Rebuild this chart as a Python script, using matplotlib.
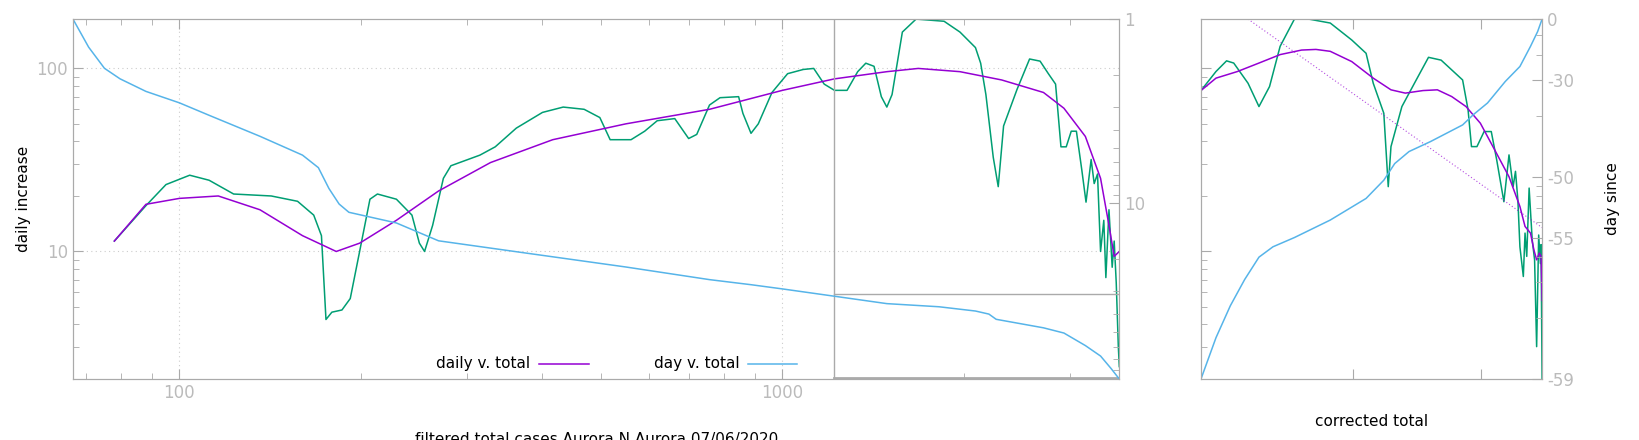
import numpy as np
import matplotlib
matplotlib.use("Agg")
import matplotlib.pyplot as plt
from matplotlib.ticker import FixedLocator, NullFormatter, FixedFormatter

PURPLE = "#9400d3"
GREEN = "#009e73"
BLUE = "#56b4e9"
GRAY = "#aaaaaa"
TICKC = "#bbbbbb"

# main panel: daily increase vs filtered total (smoothed)
daily_x = [78, 88, 100, 116, 136, 160, 182, 199, 229, 269, 328, 416, 550, 757, 1000,
           1220, 1490, 1680, 1970, 2310, 2710, 2930, 3180, 3370, 3480, 3550, 3620]
daily_y = [11.4, 18.1, 19.5, 20.1, 16.9, 12.2, 10.0, 11.1, 14.8, 21.4, 30.6, 40.8, 49.8,
           59.8, 75.9, 87.7, 96, 100, 96, 86.5, 73.9, 60.6, 42.5, 25.1, 13.9, 9.4, 10.0]

# main panel: raw daily increase
raw_x = [78, 88, 95, 104, 112, 123, 142, 157, 167, 172, 175, 179, 186, 192, 199, 207, 213,
         229, 243, 250, 255, 263, 274, 282, 315, 334, 362, 400, 433, 469, 498, 518, 561,
         591, 620, 663, 699, 721, 757, 788, 846, 860, 887, 912, 961, 1020, 1083, 1127,
         1173, 1220, 1280, 1333, 1375, 1419, 1459, 1490, 1520, 1581, 1666, 1854, 1970,
         2090, 2132, 2175, 2237, 2280, 2327, 2450, 2570, 2675, 2761, 2838, 2897, 2956,
         3013, 3073, 3137, 3188, 3251, 3289, 3331, 3370, 3412, 3439, 3480, 3523, 3550,
         3578, 3606, 3620]
raw_y = [11.4, 17.8, 23.2, 26.1, 24.5, 20.6, 20.1, 18.8, 15.8, 12.2, 4.25, 4.66, 4.79,
         5.53, 10.0, 19.3, 20.6, 19.3, 15.8, 11.1, 10.0, 13.9, 25.1, 29.4, 33.6, 37.3,
         47.2, 57.5, 61.5, 59.8, 53.9, 40.8, 40.8, 45.4, 51.8, 53.2, 41.4, 43.6, 63.1,
         69.2, 70.1, 56.8, 44.2, 49.8, 73.9, 93.6, 98.7, 100, 82.1, 75.9, 75.9, 96,
         106.8, 102.7, 70.1, 61.5, 72, 158, 186, 181, 158, 130, 106.8, 72, 32.7, 22.6,
         48.5, 76.9, 112.6, 109.6, 93.6, 82.1, 37.3, 37.3, 45.4, 45.4, 27.9, 18.6, 31.8,
         23.5, 26.5, 10.0, 14.8, 7.2, 16.9, 8.2, 11.4, 6.74, 3.06, 2.35]

# main panel: day v. total (right axis, reversed log)
day_x = [66.6, 70.7, 75.1, 79.7, 88, 100, 112, 136, 160, 170, 177, 184, 191, 229, 269,
         369, 550, 757, 887, 1000, 1220, 1490, 1818, 2090, 2200, 2262, 2710, 2930, 3180,
         3370, 3508, 3620]
day_v = [1.0, 1.42, 1.85, 2.11, 2.47, 2.85, 3.33, 4.33, 5.48, 6.41, 8.32, 10.1, 11.2,
         12.8, 16.0, 18.5, 22.2, 26.0, 27.7, 29.2, 32.0, 35.1, 36.5, 38.5, 40.0, 42.7,
         47.5, 50.7, 59.3, 67.6, 79.0, 90.1]

# right panel (x as fraction of corrected total range)
corr_px = [0, 0.044, 0.107, 0.17, 0.232, 0.295, 0.337, 0.379, 0.442, 0.505, 0.557, 0.599,
           0.651, 0.693, 0.735, 0.777, 0.819, 0.861, 0.903, 0.935, 0.95, 0.966, 0.976,
           0.984, 0.992, 0.997, 1.0]
corr_py = [75.7, 88.5, 96.2, 107, 119, 126, 127, 124, 109, 88.5, 76.4, 73.3, 75.7, 76.4,
           70.2, 61.9, 50.2, 35.9, 25.6, 17.6, 13.7, 12.6, 10.2, 9.0, 9.8, 9.4, 5.4]
corr_gx = [0, 0.044, 0.075, 0.096, 0.138, 0.17, 0.201, 0.232, 0.274, 0.316, 0.379, 0.442,
           0.484, 0.505, 0.536, 0.549, 0.557, 0.589, 0.631, 0.667, 0.704, 0.735, 0.767,
           0.783, 0.793, 0.809, 0.83, 0.851, 0.867, 0.888, 0.903, 0.915, 0.922, 0.929,
           0.935, 0.945, 0.95, 0.955, 0.962, 0.971, 0.978, 0.984, 0.99, 0.995, 0.997, 1.0]
corr_gy = [75.7, 96.2, 110, 107, 83, 61.9, 79.6, 132, 186, 186, 177, 143, 121, 83, 56.9,
           22.6, 37.4, 61.9, 86.5, 115, 111, 98.2, 86.5, 59.4, 37.4, 37.4, 45.2, 45.2,
           31.6, 18.7, 33.7, 22.6, 27.4, 19.1, 10.6, 7.3, 12.6, 9.4, 22.2, 11.6, 9.0,
           3.02, 12.3, 8.6, 10.9, 2.01]
corr_bx = [0, 0.044, 0.086, 0.128, 0.17, 0.211, 0.274, 0.379, 0.484, 0.536, 0.568, 0.61,
           0.673, 0.767, 0.798, 0.84, 0.892, 0.935, 0.966, 0.987, 1.0]
corr_bd = [-59, -58.4, -57.7, -56.9, -56.0, -55.5, -55.0, -53.9, -52.2, -50.4, -48.4,
           -46.7, -45.1, -42.0, -39.8, -36.9, -30.5, -25.0, -16.0, -7.9, 0]
trend_x = [0.138, 1.0]
trend_y = [186, 13.5]

plt.rcParams["font.family"] = "DejaVu Sans"
plt.rcParams["font.size"] = 11
fig = plt.figure(figsize=(16.4, 4.4), dpi=100)


def style(ax):
    for s in ax.spines.values():
        s.set_color(GRAY)
    ax.tick_params(which="both", direction="in", colors=GRAY, labelcolor=TICKC,
                   labelsize=12)
    ax.tick_params(which="major", length=7)
    ax.tick_params(which="minor", length=4)


# ---- main panel
ax = fig.add_axes([0.0445, 0.1386, 0.638, 0.818])
ax.set_xscale("log")
ax.set_yscale("log")
ax.set_xlim(66.6, 3620)
ax.set_ylim(2.01, 186)
ax.plot(raw_x, raw_y, color=GREEN, lw=1.1)
ax.plot(daily_x, daily_y, color=PURPLE, lw=1.1)
ax.yaxis.set_major_locator(FixedLocator([10, 100]))
ax.yaxis.set_major_formatter(FixedFormatter(["10", "100"]))
ax.xaxis.set_major_locator(FixedLocator([100, 1000]))
ax.xaxis.set_major_formatter(FixedFormatter(["100", "1000"]))
ax.xaxis.set_minor_formatter(NullFormatter())
ax.yaxis.set_minor_formatter(NullFormatter())
ax.grid(True, which="major", color="#cccccc", ls=(0, (1, 3)), lw=0.8)
ax.tick_params(top=True, which="both")
style(ax)
ax.set_ylabel("daily increase", fontsize=11)
ax.set_xlabel("filtered total cases Aurora,N Aurora 07/06/2020", fontsize=11, labelpad=22)

# inset frame
ax.axvline(1220, color=GRAY, lw=1)
ax.plot([1220, 3620], [5.87, 5.87], color=GRAY, lw=1)
ax.plot([1220, 3620], [2.03, 2.03], color=GRAY, lw=2)

ax2 = ax.twinx()
ax2.set_yscale("log")
ax2.set_ylim(90.1, 1)
ax2.plot(day_x, day_v, color=BLUE, lw=1.1)
ax2.yaxis.set_major_locator(FixedLocator([1, 10]))
ax2.yaxis.set_major_formatter(FixedFormatter(["1", "10"]))
ax2.yaxis.set_minor_formatter(NullFormatter())
style(ax2)

# legend
ax.text(0.437, 0.042, "daily v. total", transform=ax.transAxes, ha="right", va="center",
        fontsize=11)
ax.plot([0.445, 0.493], [0.042, 0.042], transform=ax.transAxes, color=PURPLE, lw=1.1)
ax.text(0.637, 0.042, "day v. total", transform=ax.transAxes, ha="right", va="center",
        fontsize=11)
ax.plot([0.645, 0.692], [0.042, 0.042], transform=ax.transAxes, color=BLUE, lw=1.1)

# ---- right panel
bx = fig.add_axes([0.7323, 0.1386, 0.208, 0.818])
bx.set_yscale("log")
bx.set_xlim(0, 1)
bx.set_ylim(2.01, 186)
bx.plot(corr_gx, corr_gy, color=GREEN, lw=1.1)
bx.plot(corr_px, corr_py, color=PURPLE, lw=1.1)
tx = np.linspace(trend_x[0], trend_x[1], 50)
ty = trend_y[0] * (trend_y[1] / trend_y[0]) ** ((tx - trend_x[0]) / (trend_x[1] - trend_x[0]))
bx.plot(tx, ty, color=PURPLE, lw=0.8, ls=(0, (1, 2)), alpha=0.7)
bx.xaxis.set_major_locator(FixedLocator([0.447, 0.82]))
bx.xaxis.set_major_formatter(NullFormatter())
bx.yaxis.set_major_locator(FixedLocator([10, 100]))
bx.yaxis.set_major_formatter(NullFormatter())
bx.yaxis.set_minor_formatter(NullFormatter())
bx.tick_params(top=True, which="both")
style(bx)
bx.set_xlabel("corrected total", fontsize=11, labelpad=22)

bx2 = bx.twinx()
bx2.set_yscale("log")
bx2.set_ylim(1, 60)
bx2.plot(corr_bx, [60 + d for d in corr_bd], color=BLUE, lw=1.1)
dticks = [0, -30, -50, -55, -59]
bx2.yaxis.set_major_locator(FixedLocator([60 + d for d in dticks]))
bx2.yaxis.set_major_formatter(FixedFormatter([str(d) for d in dticks]))
bx2.yaxis.set_minor_formatter(NullFormatter())
style(bx2)
bx2.set_ylabel("day since", fontsize=11, labelpad=22)

fig.savefig("out.png", dpi=100)
